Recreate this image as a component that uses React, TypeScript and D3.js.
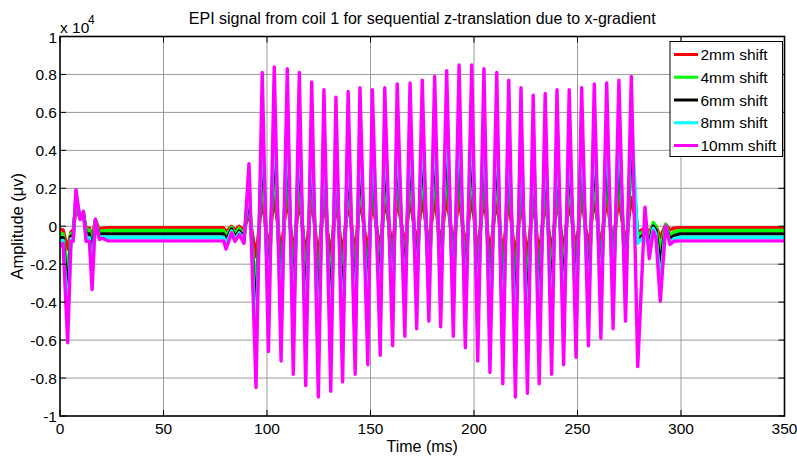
import React from "react";
import * as d3 from "d3";

// ---- Data (values in units of 1e4 µV, time in ms) ----
const startTimes = [0, 1.5, 3.7, 5.3, 6.4, 7.7, 9.7, 11.3, 12.6, 14.2, 15.5, 17.1, 19.0, 20.6, 23];
const preTimes = [79, 80.2, 82.9, 84.5, 86.6, 88.9, 91.3];
const trainTimes = [94.7, 97.7, 100.7, 103.5, 106.8, 109.8, 112.7, 115.6, 118.7, 121.6, 124.8, 127.5, 130.8, 133.3, 136.5, 139.2, 142.6, 144.9, 148.7, 150.9, 154.7, 156.9, 160.7, 162.9, 166.6, 169.1, 172.3, 175.0, 178.2, 181.0, 183.9, 186.8, 190.0, 192.8, 195.8, 198.9, 201.8, 204.8, 207.7, 211.0, 213.9, 216.8, 220.0, 222.7, 225.8, 228.6, 231.5, 234.4, 237.5, 240.1, 243.3, 246.0, 249.3, 252.0, 255.3, 258.1, 261.3, 264.1, 267.2, 270.0, 273.2, 276.0, 279.1];
const tailTimes = [282.6, 284.7, 286.6, 287.9, 290, 292.6, 294.7, 296.6, 299.5, 350];

const shift2mm = [
  -0.017, -0.02, -0.12, -0.03, -0.02, 0.1, 0.04, 0.06, -0.01, -0.01, -0.06, 0.03, -0.015, -0.01, -0.008,
  -0.008, -0.03, 0.0, -0.02, 0.0, -0.02, 0.07,
  -0.16, 0.15, -0.13, 0.16, -0.14, 0.16, -0.15, 0.15, -0.16, 0.15, -0.17, 0.14, -0.17, 0.14, -0.16, 0.14, -0.15, 0.15, -0.14, 0.14, -0.13, 0.15, -0.12, 0.15, -0.11, 0.15, -0.10, 0.15, -0.10, 0.15, -0.10, 0.16, -0.11, 0.16, -0.12, 0.16, -0.14, 0.16, -0.15, 0.15, -0.16, 0.14, -0.17, 0.14, -0.17, 0.14, -0.16, 0.14, -0.15, 0.15, -0.14, 0.14, -0.13, 0.15, -0.12, 0.15, -0.11, 0.15, -0.10, 0.15, -0.10, 0.15, -0.03,
  -0.01, -0.03, 0.01, 0.0, -0.06, 0.01, -0.02, -0.01, -0.008, -0.008,
];
const shift4mm = [
  -0.04, -0.04, -0.25, -0.04, -0.035, 0.13, 0.05, 0.07, -0.02, -0.02, -0.1, 0.035, -0.03, -0.025, -0.022,
  -0.022, -0.05, -0.005, -0.04, -0.01, -0.045, 0.13,
  -0.35, 0.32, -0.27, 0.34, -0.29, 0.33, -0.32, 0.32, -0.34, 0.30, -0.37, 0.29, -0.36, 0.27, -0.34, 0.28, -0.32, 0.29, -0.30, 0.29, -0.28, 0.29, -0.26, 0.30, -0.24, 0.30, -0.22, 0.31, -0.21, 0.32, -0.22, 0.33, -0.24, 0.34, -0.26, 0.34, -0.29, 0.33, -0.32, 0.32, -0.34, 0.31, -0.37, 0.29, -0.36, 0.28, -0.34, 0.28, -0.32, 0.29, -0.30, 0.29, -0.28, 0.29, -0.26, 0.30, -0.24, 0.30, -0.22, 0.31, -0.21, 0.32, -0.05,
  -0.02, -0.06, 0.02, 0.0, -0.12, 0.01, -0.05, -0.03, -0.022, -0.022,
];
const shift6mm = [
  -0.06, -0.06, -0.36, -0.055, -0.05, 0.15, 0.045, 0.07, -0.04, -0.04, -0.16, 0.03, -0.045, -0.04, -0.04,
  -0.04, -0.07, -0.015, -0.055, -0.025, -0.06, 0.19,
  -0.50, 0.47, -0.39, 0.49, -0.42, 0.48, -0.46, 0.47, -0.49, 0.44, -0.53, 0.42, -0.51, 0.39, -0.48, 0.41, -0.46, 0.42, -0.43, 0.42, -0.40, 0.42, -0.37, 0.44, -0.34, 0.44, -0.32, 0.45, -0.30, 0.46, -0.31, 0.48, -0.34, 0.49, -0.37, 0.49, -0.42, 0.48, -0.45, 0.47, -0.49, 0.45, -0.53, 0.42, -0.52, 0.40, -0.49, 0.41, -0.46, 0.42, -0.43, 0.42, -0.40, 0.42, -0.37, 0.44, -0.35, 0.44, -0.32, 0.45, -0.30, 0.46, -0.07,
  -0.04, -0.09, 0.0, -0.02, -0.2, 0.0, -0.07, -0.05, -0.04, -0.04,
];
const shift8mm = [
  -0.08, -0.075, -0.5, -0.065, -0.065, 0.17, 0.04, 0.075, -0.06, -0.06, -0.25, 0.03, -0.06, -0.055, -0.058,
  -0.058, -0.095, -0.025, -0.07, -0.035, -0.075, 0.26,
  -0.66, 0.62, -0.52, 0.64, -0.56, 0.63, -0.61, 0.62, -0.66, 0.58, -0.70, 0.55, -0.68, 0.52, -0.64, 0.54, -0.61, 0.56, -0.57, 0.55, -0.53, 0.56, -0.50, 0.57, -0.46, 0.58, -0.43, 0.59, -0.40, 0.60, -0.42, 0.63, -0.46, 0.65, -0.50, 0.65, -0.56, 0.63, -0.60, 0.62, -0.65, 0.59, -0.70, 0.56, -0.69, 0.53, -0.65, 0.54, -0.61, 0.55, -0.57, 0.55, -0.54, 0.56, -0.50, 0.57, -0.46, 0.58, -0.43, 0.59, -0.40, 0.60, -0.09,
  -0.05, -0.12, -0.01, -0.04, -0.3, 0.0, -0.09, -0.065, -0.058, -0.058,
];
const shift10mm = [
  -0.105, -0.09, -0.614, -0.079, -0.079, 0.193, 0.035, 0.079, -0.079, -0.079, -0.333, 0.039, -0.07, -0.063, -0.077,
  -0.077, -0.12, -0.035, -0.08, -0.044, -0.09, 0.33,
  -0.85, 0.81, -0.66, 0.84, -0.71, 0.83, -0.78, 0.81, -0.84, 0.76, -0.90, 0.72, -0.87, 0.68, -0.82, 0.71, -0.78, 0.73, -0.73, 0.72, -0.68, 0.73, -0.63, 0.75, -0.58, 0.755, -0.54, 0.77, -0.50, 0.79, -0.53, 0.82, -0.58, 0.85, -0.64, 0.85, -0.71, 0.83, -0.77, 0.81, -0.83, 0.77, -0.90, 0.73, -0.88, 0.69, -0.83, 0.70, -0.78, 0.72, -0.73, 0.72, -0.69, 0.73, -0.63, 0.75, -0.59, 0.755, -0.54, 0.77, -0.50, 0.79, -0.74,
  0.10, -0.17, -0.026, -0.06, -0.395, 0.0, -0.096, -0.079, -0.077, -0.077,
];

const seriesNames = ["2mm shift", "4mm shift", "6mm shift", "8mm shift", "10mm shift"];
const seriesColors = ["#ff0000", "#00ff00", "#000000", "#00ffff", "#ff00ff"];
const xTicks = [0, 50, 100, 150, 200, 250, 300, 350];
const yTicks = [-1, -0.8, -0.6, -0.4, -0.2, 0, 0.2, 0.4, 0.6, 0.8, 1];

const W = 797;
const H = 459;
const L = 60, R = 784.5, T = 36.5, B = 416;
const FONT = "'Liberation Sans', Arial, sans-serif";

export default function App() {
  const times = [...startTimes, ...preTimes, ...trainTimes, ...tailTimes];
  const allSeries = [shift2mm, shift4mm, shift6mm, shift8mm, shift10mm];
  const x = d3.scaleLinear().domain([0, 350]).range([L, R]);
  const y = d3.scaleLinear().domain([-1, 1]).range([B, T]);
  const line = d3
    .line<number>()
    .x((_, i) => x(times[i]))
    .y((d) => y(d));

  const legX = 670, legY = 41.5, legW = 112.5, legH = 115;
  const rowY = (i: number) => 54.5 + i * 22.75;

  return (
    <svg width={W} height={H} style={{ position: "absolute", left: 0, top: 0, background: "#fff" }} fontFamily={FONT}>
      <rect x={0} y={0} width={W} height={H} fill="#fff" />
      <defs>
        <clipPath id="clip">
          <rect x={L} y={T - 2} width={R - L} height={B - T + 4} />
        </clipPath>
      </defs>
      {/* grid */}
      {xTicks.slice(1, -1).map((t) => (
        <line key={"gx" + t} x1={x(t)} x2={x(t)} y1={T} y2={B} stroke="#9a9a9a" strokeWidth={1} />
      ))}
      {yTicks.slice(1, -1).map((t) => (
        <line key={"gy" + t} x1={L} x2={R} y1={y(t)} y2={y(t)} stroke="#9a9a9a" strokeWidth={1} />
      ))}
      {/* series */}
      <g clipPath="url(#clip)">
        {allSeries.map((s, i) => (
          <path key={i} d={line(s) || ""} fill="none" stroke={seriesColors[i]} strokeWidth={3.4} strokeLinejoin="round" />
        ))}
      </g>
      {/* axes box */}
      <rect x={L} y={T} width={R - L} height={B - T} fill="none" stroke="#000" strokeWidth={1.6} />
      {/* ticks */}
      {xTicks.map((t) => (
        <g key={"tx" + t}>
          <line x1={x(t)} x2={x(t)} y1={B} y2={B - 6} stroke="#000" strokeWidth={1} />
          <line x1={x(t)} x2={x(t)} y1={T} y2={T + 6} stroke="#000" strokeWidth={1} />
          <text x={x(t)} y={434} fontSize={15.5} textAnchor="middle" fill="#000">
            {d3.format("d")(t)}
          </text>
        </g>
      ))}
      {yTicks.map((t) => (
        <g key={"ty" + t}>
          <line x1={L} x2={L + 6} y1={y(t)} y2={y(t)} stroke="#000" strokeWidth={1} />
          <line x1={R} x2={R - 6} y1={y(t)} y2={y(t)} stroke="#000" strokeWidth={1} />
          <text x={57} y={y(t) + 6} fontSize={15.5} textAnchor="end" fill="#000">
            {t === 0 ? "0" : String(t)}
          </text>
        </g>
      ))}
      {/* exponent */}
      <text x={60} y={33} fontSize={15.5} fill="#000">x 10</text>
      <text x={88} y={24} fontSize={12} fill="#000">4</text>
      {/* title and labels */}
      <text x={(L + R) / 2} y={23.5} fontSize={16} textAnchor="middle" fill="#000">
        EPI signal from coil 1 for sequential z-translation due to x-gradient
      </text>
      <text x={(L + R) / 2} y={451.5} fontSize={16} textAnchor="middle" fill="#000">
        Time (ms)
      </text>
      <text transform={`translate(23,${(T + B) / 2}) rotate(-90)`} fontSize={16.5} textAnchor="middle" fill="#000">
        Amplitude (μv)
      </text>
      {/* legend */}
      <rect x={legX} y={legY} width={legW} height={legH} fill="#fff" stroke="#000" strokeWidth={1} />
      {seriesNames.map((n, i) => (
        <g key={n}>
          <line x1={674} x2={698} y1={rowY(i)} y2={rowY(i)} stroke={seriesColors[i]} strokeWidth={3} />
          <text x={700.5} y={rowY(i) + 5.5} fontSize={15.5} fill="#000">
            {n}
          </text>
        </g>
      ))}
    </svg>
  );
}
